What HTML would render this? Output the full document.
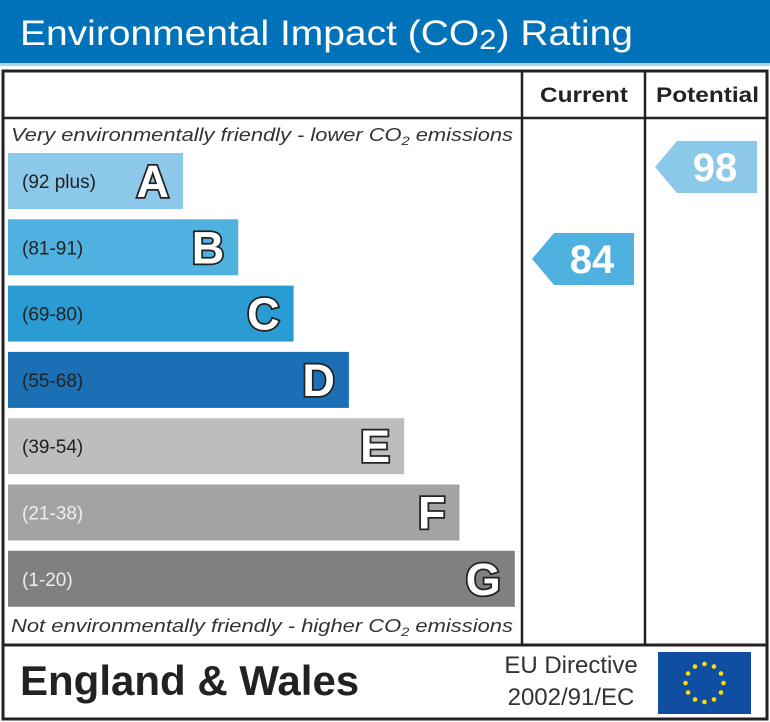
<!DOCTYPE html>
<html><head><meta charset="utf-8"><style>
html,body{margin:0;padding:0;background:#fff}
svg{display:block}
text{font-family:"Liberation Sans",sans-serif}
</style></head><body>
<svg id="chart" width="770" height="722" viewBox="0 0 770 722">
<rect x="0" y="0" width="770" height="63" fill="#0072b9"/>
<rect x="0" y="63" width="770" height="3" fill="#a9d4ee"/>
<text x="20" y="45" font-size="35" fill="#fff" textLength="613" lengthAdjust="spacingAndGlyphs">Environmental Impact (CO<tspan font-size="28" dy="4">2</tspan><tspan dy="-4">) Rating</tspan></text>
<rect x="3" y="71" width="764" height="648" fill="none" stroke="#222" stroke-width="3"/>
<line x1="3" y1="118" x2="767" y2="118" stroke="#222" stroke-width="2.5"/>
<line x1="3" y1="645" x2="767" y2="645" stroke="#222" stroke-width="3"/>
<line x1="522" y1="71" x2="522" y2="645" stroke="#222" stroke-width="2.5"/>
<line x1="645" y1="71" x2="645" y2="645" stroke="#222" stroke-width="2.5"/>
<text x="540" y="102" font-size="21" font-weight="bold" fill="#222" textLength="88" lengthAdjust="spacingAndGlyphs">Current</text>
<text x="656" y="102" font-size="21" font-weight="bold" fill="#222" textLength="103" lengthAdjust="spacingAndGlyphs">Potential</text>
<text x="11" y="141" font-size="18" font-style="italic" fill="#333" textLength="502" lengthAdjust="spacingAndGlyphs">Very environmentally friendly - lower CO<tspan font-size="12" dy="4">2</tspan><tspan dy="-4"> emissions</tspan></text>
<text x="11" y="632" font-size="18" font-style="italic" fill="#333" textLength="502" lengthAdjust="spacingAndGlyphs">Not environmentally friendly - higher CO<tspan font-size="12" dy="4">2</tspan><tspan dy="-4"> emissions</tspan></text>
<g id="bands"></g>
<g id="arrows"></g>
<text x="20" y="695" font-size="42" font-weight="bold" fill="#222">England &amp; Wales</text>
<text x="571" y="673" font-size="24" fill="#333" text-anchor="middle">EU Directive</text>
<text x="571" y="705" font-size="24" fill="#333" text-anchor="middle">2002/91/EC</text>
<rect x="658" y="652" width="93" height="62" fill="#0f4ea0"/>
<g id="stars"></g>
</svg>
<script>
const bandLetters = ["A","B","C","D","E","F","G"];
const bandRanges = ["(92 plus)","(81-91)","(69-80)","(55-68)","(39-54)","(21-38)","(1-20)"];
const bandColors = ["#8cc8e9","#4fb1df","#2b9bd4","#1b6fb4","#bdbdbd","#a3a3a3","#808080"];
const currentValue = 84;
const potentialValue = 98;

const NS="http://www.w3.org/2000/svg";
function mk(tag,attrs,parent){const e=document.createElementNS(NS,tag);for(const k in attrs)e.setAttribute(k,attrs[k]);parent.appendChild(e);return e;}
const bandsG=document.getElementById('bands');
const bandTop=i=>153+i*66.3, bandH=56, bandW=i=>175+i*55.3;
bandLetters.forEach((L,i)=>{
  const y=bandTop(i), w=bandW(i);
  const r=mk('rect',{x:8,y:y,width:w,height:bandH,fill:bandColors[i]},bandsG);
  
  
  const t=mk('text',{x:22,y:y+bandH/2+7,'font-size':19,fill:i>=5?'#eee':'#222'},bandsG);
  t.textContent=bandRanges[i];
  
  
  const l=mk('text',{x:8+w-14,y:y+bandH/2+16,'font-size':45,'font-weight':'bold',fill:'#fff',stroke:'#222','stroke-width':3.5,'paint-order':'stroke','text-anchor':'end'},bandsG);
  l.textContent=L;
  
  
});
function bandIndex(v){if(v>=92)return 0;if(v>=81)return 1;if(v>=69)return 2;if(v>=55)return 3;if(v>=39)return 4;if(v>=21)return 5;return 6;}
function valY(v){return 167+(98-v)*(92/14);}
const arrowsG=document.getElementById('arrows');
function arrow(v,x0,name){
  const cy=valY(v), h=26, x1=x0+102;
  const p=mk('polygon',{points:`${x0},${cy} ${x0+22},${cy-h} ${x1},${cy-h} ${x1},${cy+h} ${x0+22},${cy+h}`,fill:bandColors[bandIndex(v)]},arrowsG);
  
  
  const t=mk('text',{x:x0+60,y:cy+14,'font-size':40,'font-weight':'bold',fill:'#fff','text-anchor':'middle'},arrowsG);
  t.textContent=v;
  
  
}
arrow(currentValue,532,'current');
arrow(potentialValue,655,'potential');
const starsG=document.getElementById('stars');
for(let k=0;k<12;k++){const a=k*Math.PI/6;
  const s=mk('circle',{cx:704.5+19*Math.sin(a),cy:683-19*Math.cos(a),r:2.3,fill:'#ffdd00'},starsG);
  
  
}
</script>
</body></html>
